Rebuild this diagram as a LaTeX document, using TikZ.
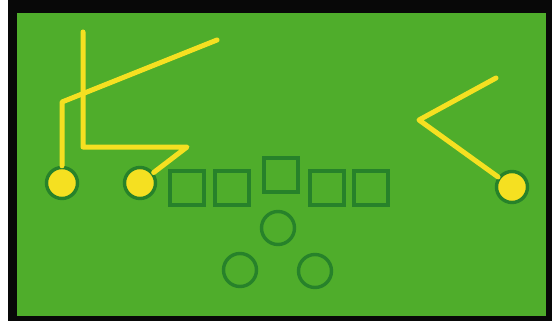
\documentclass[tikz,border=0pt]{standalone}
\usetikzlibrary{positioning}
\definecolor{turf}{HTML}{4FAD2B}
\definecolor{chalk}{HTML}{27822A}
\definecolor{route}{HTML}{F5E021}
\definecolor{frame}{HTML}{080808}
\tikzset{
  x=1pt, y=-1pt,
  pbline/.style  = {draw=chalk, line width=3.8pt, minimum size=34pt, inner sep=0pt},
  pbback/.style  = {circle, draw=chalk, line width=3.4pt, minimum size=33pt, inner sep=0pt},
  pbrecv/.style  = {circle, draw=chalk, fill=route, line width=3.4pt, minimum size=31pt, inner sep=0pt},
  pbroute/.style = {draw=route, line width=5pt, line cap=round, line join=round},
}

\begin{document}
\begin{tikzpicture}
\useasboundingbox (0,0) rectangle (552,321);
\fill[white] (0,0) rectangle (552,321);
\fill[frame] (8,0) rectangle (552,321);
\fill[turf]  (17,13) rectangle (546,316);

% offensive line
\node[pbline] (lt) at (187,188) {};
\node[pbline] (lg) at (232,188) {};
\node[pbline] (ct) at (281,175) {};
\node[pbline] (rg) at (327,188) {};
\node[pbline] (rt) at (371,188) {};

% backfield
\node[pbback] (qb) at (278,228) {};
\node[pbback] (hl) at (240,270) {};
\node[pbback] (hr) at (315,271) {};

% receivers
\node[pbrecv] (wl) at (62,183) {};
\node[pbrecv] (sl) at (140,183) {};
\node[pbrecv] (wr) at (512,187) {};

\coordinate (wl1) at (62,102);
\coordinate (wl2) at (217,40);
\coordinate (sl1) at (187,147);
\coordinate (sl2) at (83,147);
\coordinate (sl3) at (83,32);
\coordinate (wr1) at (419,120);
\coordinate (wr2) at (496,78);

\draw[pbroute] (wl) -- (wl1) -- (wl2);
\draw[pbroute] (sl) -- (sl1) -- (sl2) -- (sl3);
\draw[pbroute] (wr) -- (wr1) -- (wr2);
\end{tikzpicture}
\end{document}
